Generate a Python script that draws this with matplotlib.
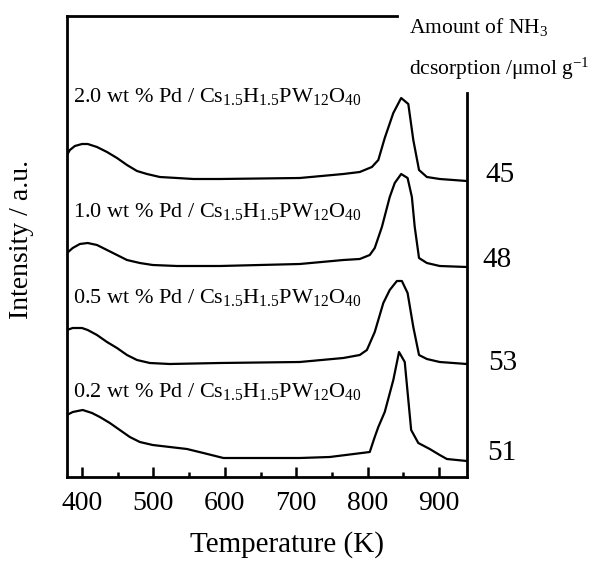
import numpy as np
import matplotlib
matplotlib.use('Agg')
import matplotlib.pyplot as plt
from matplotlib.ticker import MultipleLocator

plt.rcParams['font.family'] = ['Liberation Serif', 'DejaVu Serif']
plt.rcParams['mathtext.fontset'] = 'custom'
plt.rcParams['mathtext.rm'] = 'Liberation Serif'
plt.rcParams['mathtext.it'] = 'Liberation Serif:italic'

# TPD traces (temperature in K, intensity in arbitrary offset units)
t_20 = [379, 383, 390, 400, 408, 421, 435, 449, 463, 477, 491, 509, 533, 556, 593,
        705, 766, 789, 806, 815, 824, 836, 847, 857, 864, 872, 883, 901, 939]
i_20 = [322, 327, 331, 333, 333, 330, 325, 319, 312, 306, 303, 300, 299, 298, 298,
        299, 303, 305, 310, 317, 339, 364, 379, 373, 337, 307, 300, 298, 296]

t_10 = [379, 387, 397, 408, 421, 435, 449, 463, 481, 499, 533, 593,
        705, 766, 789, 803, 810, 820, 831, 838, 847, 856, 862, 866, 872, 883, 901, 939]
i_10 = [224, 229, 233, 234, 232, 227, 222, 217, 214, 212, 211, 211,
        213, 217, 218, 222, 229, 250, 280, 294, 303, 299, 280, 250, 219, 214, 211, 210]

t_05 = [379, 387, 400, 408, 421, 435, 449, 463, 477, 495, 523, 593,
        705, 766, 789, 799, 810, 822, 831, 841, 848, 856, 864, 872, 883, 901, 939]
i_05 = [147, 149, 149, 147, 142, 135, 129, 122, 117, 114, 113, 114,
        115, 119, 122, 127, 145, 174, 187, 196, 196, 184, 150, 122, 118, 115, 113]

t_02 = [379, 387, 401, 414, 425, 439, 453, 467, 481, 499, 523, 547, 570, 598,
        705, 747, 803, 810, 815, 824, 836, 844, 852, 861, 871, 887, 901, 911, 939]
i_02 = [62, 65, 67, 64, 60, 54, 47, 40, 35, 32, 30, 28, 24, 19,
        19, 20, 25, 40, 50, 65, 97, 125, 115, 47, 34, 28, 22, 18, 16]

series = [(t_20, i_20), (t_10, i_10), (t_05, i_05), (t_02, i_02)]
labels = ['2.0', '1.0', '0.5', '0.2']
label_y = [375, 260, 174, 80]
amounts = ['45', '48', '53', '51']
amount_y = [175, 260, 363, 453]   # pixel rows of the numbers on the right
amount_x = [485, 482, 488, 487]

fig = plt.figure(figsize=(5.94, 5.63), dpi=100)
ax = fig.add_axes([67/594, 1 - 477/563, 400/594, 461/563])

for t, i in series:
    ax.plot(t, i, color='k', linewidth=1.6)

for lab, y in zip(labels, label_y):
    ax.text(387, y, lab + r' wt % Pd / Cs$_{1.5}$H$_{1.5}$PW$_{12}$O$_{40}$',
            fontsize=16, va='baseline', ha='left')

ax.set_xlim(379, 939.2)
ax.set_ylim(0, 461)
ax.set_xticks([400, 500, 600, 700, 800, 900])
ax.xaxis.set_minor_locator(MultipleLocator(50))
ax.set_yticks([])
ax.tick_params(axis='x', which='major', direction='in', length=7, width=1.8, labelsize=20, pad=10)
ax.tick_params(axis='x', which='minor', direction='in', length=3.5, width=1.8)
ax.tick_params(axis='x', top=False, which='both')

for s in ax.spines.values():
    s.set_linewidth(2.0)
ax.spines['top'].set_bounds(379, 841)
ax.spines['right'].set_bounds(0, 477 - 93)

# axis labels
fig.text(22/594, 1 - 239/563, 'Intensity / a.u.', rotation=90, fontsize=20, ha='center', va='center')
fig.text(287/594, 1 - 545/563, 'Temperature (K)', fontsize=21, ha='center', va='center')

# NH3 desorption amounts
fig.text(409/594, 1 - 33/563, r'Amount of NH$_3$', fontsize=15.5, ha='left', va='baseline')
fig.text(409/594, 1 - 75/563, r'dcsorption /μmol g$^{-1}$', fontsize=15.5, ha='left', va='baseline')
for a, x, y in zip(amounts, amount_x, amount_y):
    fig.text(x/594, 1 - y/563, a, fontsize=21, ha='left', va='center')

plt.savefig('out.png', dpi=100)
